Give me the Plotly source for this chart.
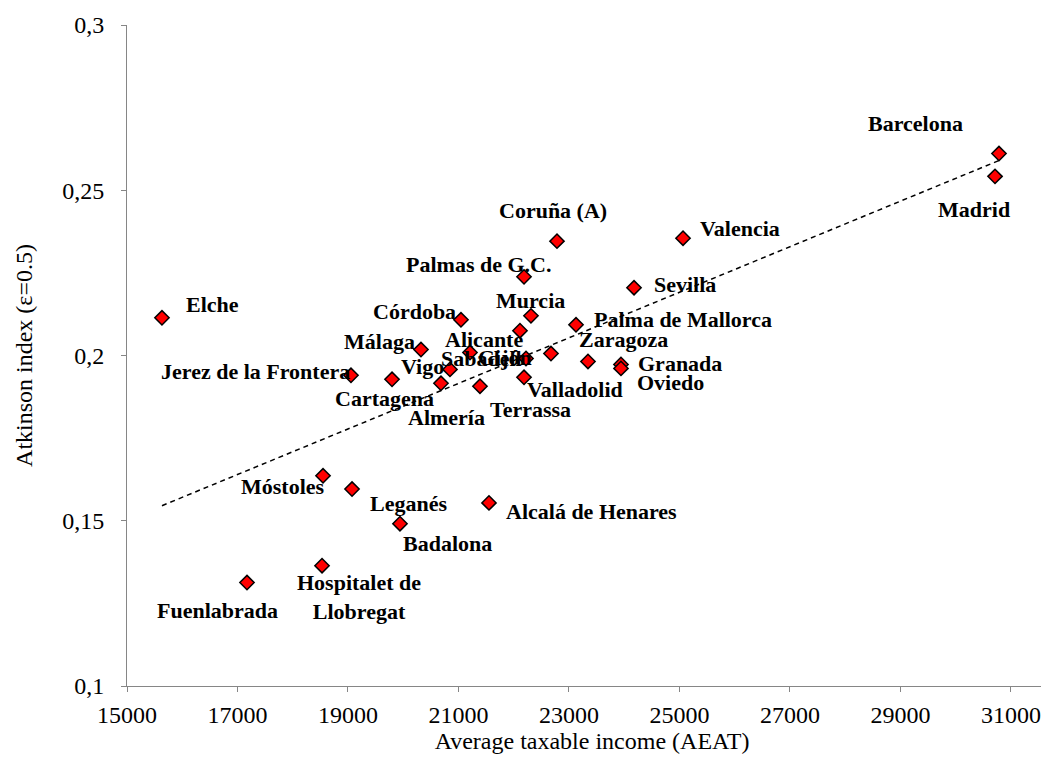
import numpy as np
import plotly.graph_objects as go

# ---------------- data ----------------
cities = [
    "Barcelona", "Madrid", "Valencia", "Coruña (A)", "Palmas de G.C.", "Sevilla",
    "Elche", "Córdoba", "Murcia", "Alicante", "Palma de Mallorca", "Málaga",
    "Sabadell", "Gijón", "Zaragoza", "", "Jerez de la Frontera", "Vigo",
    "Granada", "Oviedo", "Valladolid", "Cartagena", "Almería", "Terrassa",
    "Móstoles", "Leganés", "Alcalá de Henares", "Badalona",
    "Hospitalet de<br>Llobregat", "Fuenlabrada",
]
income = [
    30783, 30711, 25064, 22783, 22186, 24177,
    15633, 21045, 22312, 22113, 23127, 20321,
    21208, 22222, 22674, 23344, 19054, 20846,
    23941, 23941, 22186, 19797, 20683, 21389,
    18548, 19073, 21552, 19941,
    18530, 17172,
]
atkinson = [
    0.2611, 0.2542, 0.2355, 0.2346, 0.2238, 0.2205,
    0.2114, 0.2108, 0.2120, 0.2075, 0.2093, 0.2018,
    0.2009, 0.1991, 0.2006, 0.1982, 0.1940, 0.1958,
    0.1973, 0.1961, 0.1934, 0.1928, 0.1916, 0.1907,
    0.1636, 0.1596, 0.1554, 0.1491,
    0.1364, 0.1313,
]
x_ticks = [15000, 17000, 19000, 21000, 23000, 25000, 27000, 29000, 31000]
y_ticks = [0.1, 0.15, 0.2, 0.25, 0.3]
y_ticktext = ["0,1", "0,15", "0,2", "0,25", "0,3"]

# label placement (pixel offsets from each marker: right, down)
label_offsets = {
    "Barcelona": (-83, -30), "Madrid": (-21, 33), "Valencia": (57, -10),
    "Coruña (A)": (-4, -31), "Palmas de G.C.": (-46, -12), "Sevilla": (51, -3),
    "Elche": (51, -13), "Córdoba": (-46, -8), "Murcia": (0, -15),
    "Alicante": (-36, 9), "Palma de Mallorca": (107, -5), "Málaga": (-41, -8),
    "Sabadell": (12, 6), "Gijón": (-21, -1), "Zaragoza": (73, -14),
    "Jerez de la Frontera": (-95, -4), "Vigo": (-27, -3), "Granada": (59, -1),
    "Oviedo": (50, 14), "Valladolid": (51, 12), "Cartagena": (-8, 19),
    "Almería": (6, 34), "Terrassa": (51, 23), "Móstoles": (-40, 11),
    "Leganés": (56, 14), "Alcalá de Henares": (103, 9), "Badalona": (48, 20),
    "Hospitalet de<br>Llobregat": (37, 31), "Fuenlabrada": (-30, 28),
}

FONT = "Times New Roman, Liberation Serif, Times, serif"
AXIS_GRAY = "#868686"

# linear trend line fitted on the data
slope, intercept = np.polyfit(income, atkinson, 1)
trend_x = np.array([min(income), max(income)])
trend_y = slope * trend_x + intercept

fig = go.Figure()
fig.add_trace(go.Scatter(
    x=trend_x, y=trend_y, mode="lines",
    line=dict(color="black", width=1.5, dash="5px,4px"),
    hoverinfo="skip",
))
fig.add_trace(go.Scatter(
    x=income, y=atkinson, mode="markers",
    marker=dict(symbol="diamond", size=11, color="#FF0000",
                line=dict(color="black", width=1.5)),
    text=cities,
))

for name, xv, yv in zip(cities, income, atkinson):
    if not name:
        continue
    dx, dy = label_offsets[name]
    fig.add_annotation(
        x=xv, y=yv, xref="x", yref="y",
        text="<b>" + name.replace("<br>", "</b><br><b>") + "</b>",
        showarrow=False, xshift=dx, yshift=-dy,
        font=dict(family=FONT, size=22, color="black"),
    )

fig.update_layout(
    width=1049, height=760,
    margin=dict(l=119, r=0, t=17, b=82),
    plot_bgcolor="white", paper_bgcolor="white",
    showlegend=False,
    xaxis=dict(
        range=[15000, 31833], tickvals=x_ticks, tickformat="d",
        showline=True, linecolor=AXIS_GRAY, linewidth=1,
        ticks="outside", ticklen=5, tickcolor=AXIS_GRAY,
        showgrid=False, zeroline=False, automargin=False,
        tickfont=dict(family=FONT, size=24, color="black"),
        ticklabelstandoff=2,
        title=dict(text="Average taxable income (AEAT)",
                   font=dict(family=FONT, size=24, color="black"), standoff=3),
    ),
    yaxis=dict(
        range=[0.1, 0.3], tickvals=y_ticks, ticktext=y_ticktext,
        showline=True, linecolor=AXIS_GRAY, linewidth=1,
        ticks="outside", ticklen=5, tickcolor=AXIS_GRAY,
        showgrid=False, zeroline=False, automargin=False,
        tickfont=dict(family=FONT, size=24, color="black"),
        ticklabelstandoff=12,
        title=dict(text="Atkinson index (ε=0.5)",
                   font=dict(family=FONT, size=24, color="black"), standoff=22),
    ),
)

fig.write_html("out.html")
